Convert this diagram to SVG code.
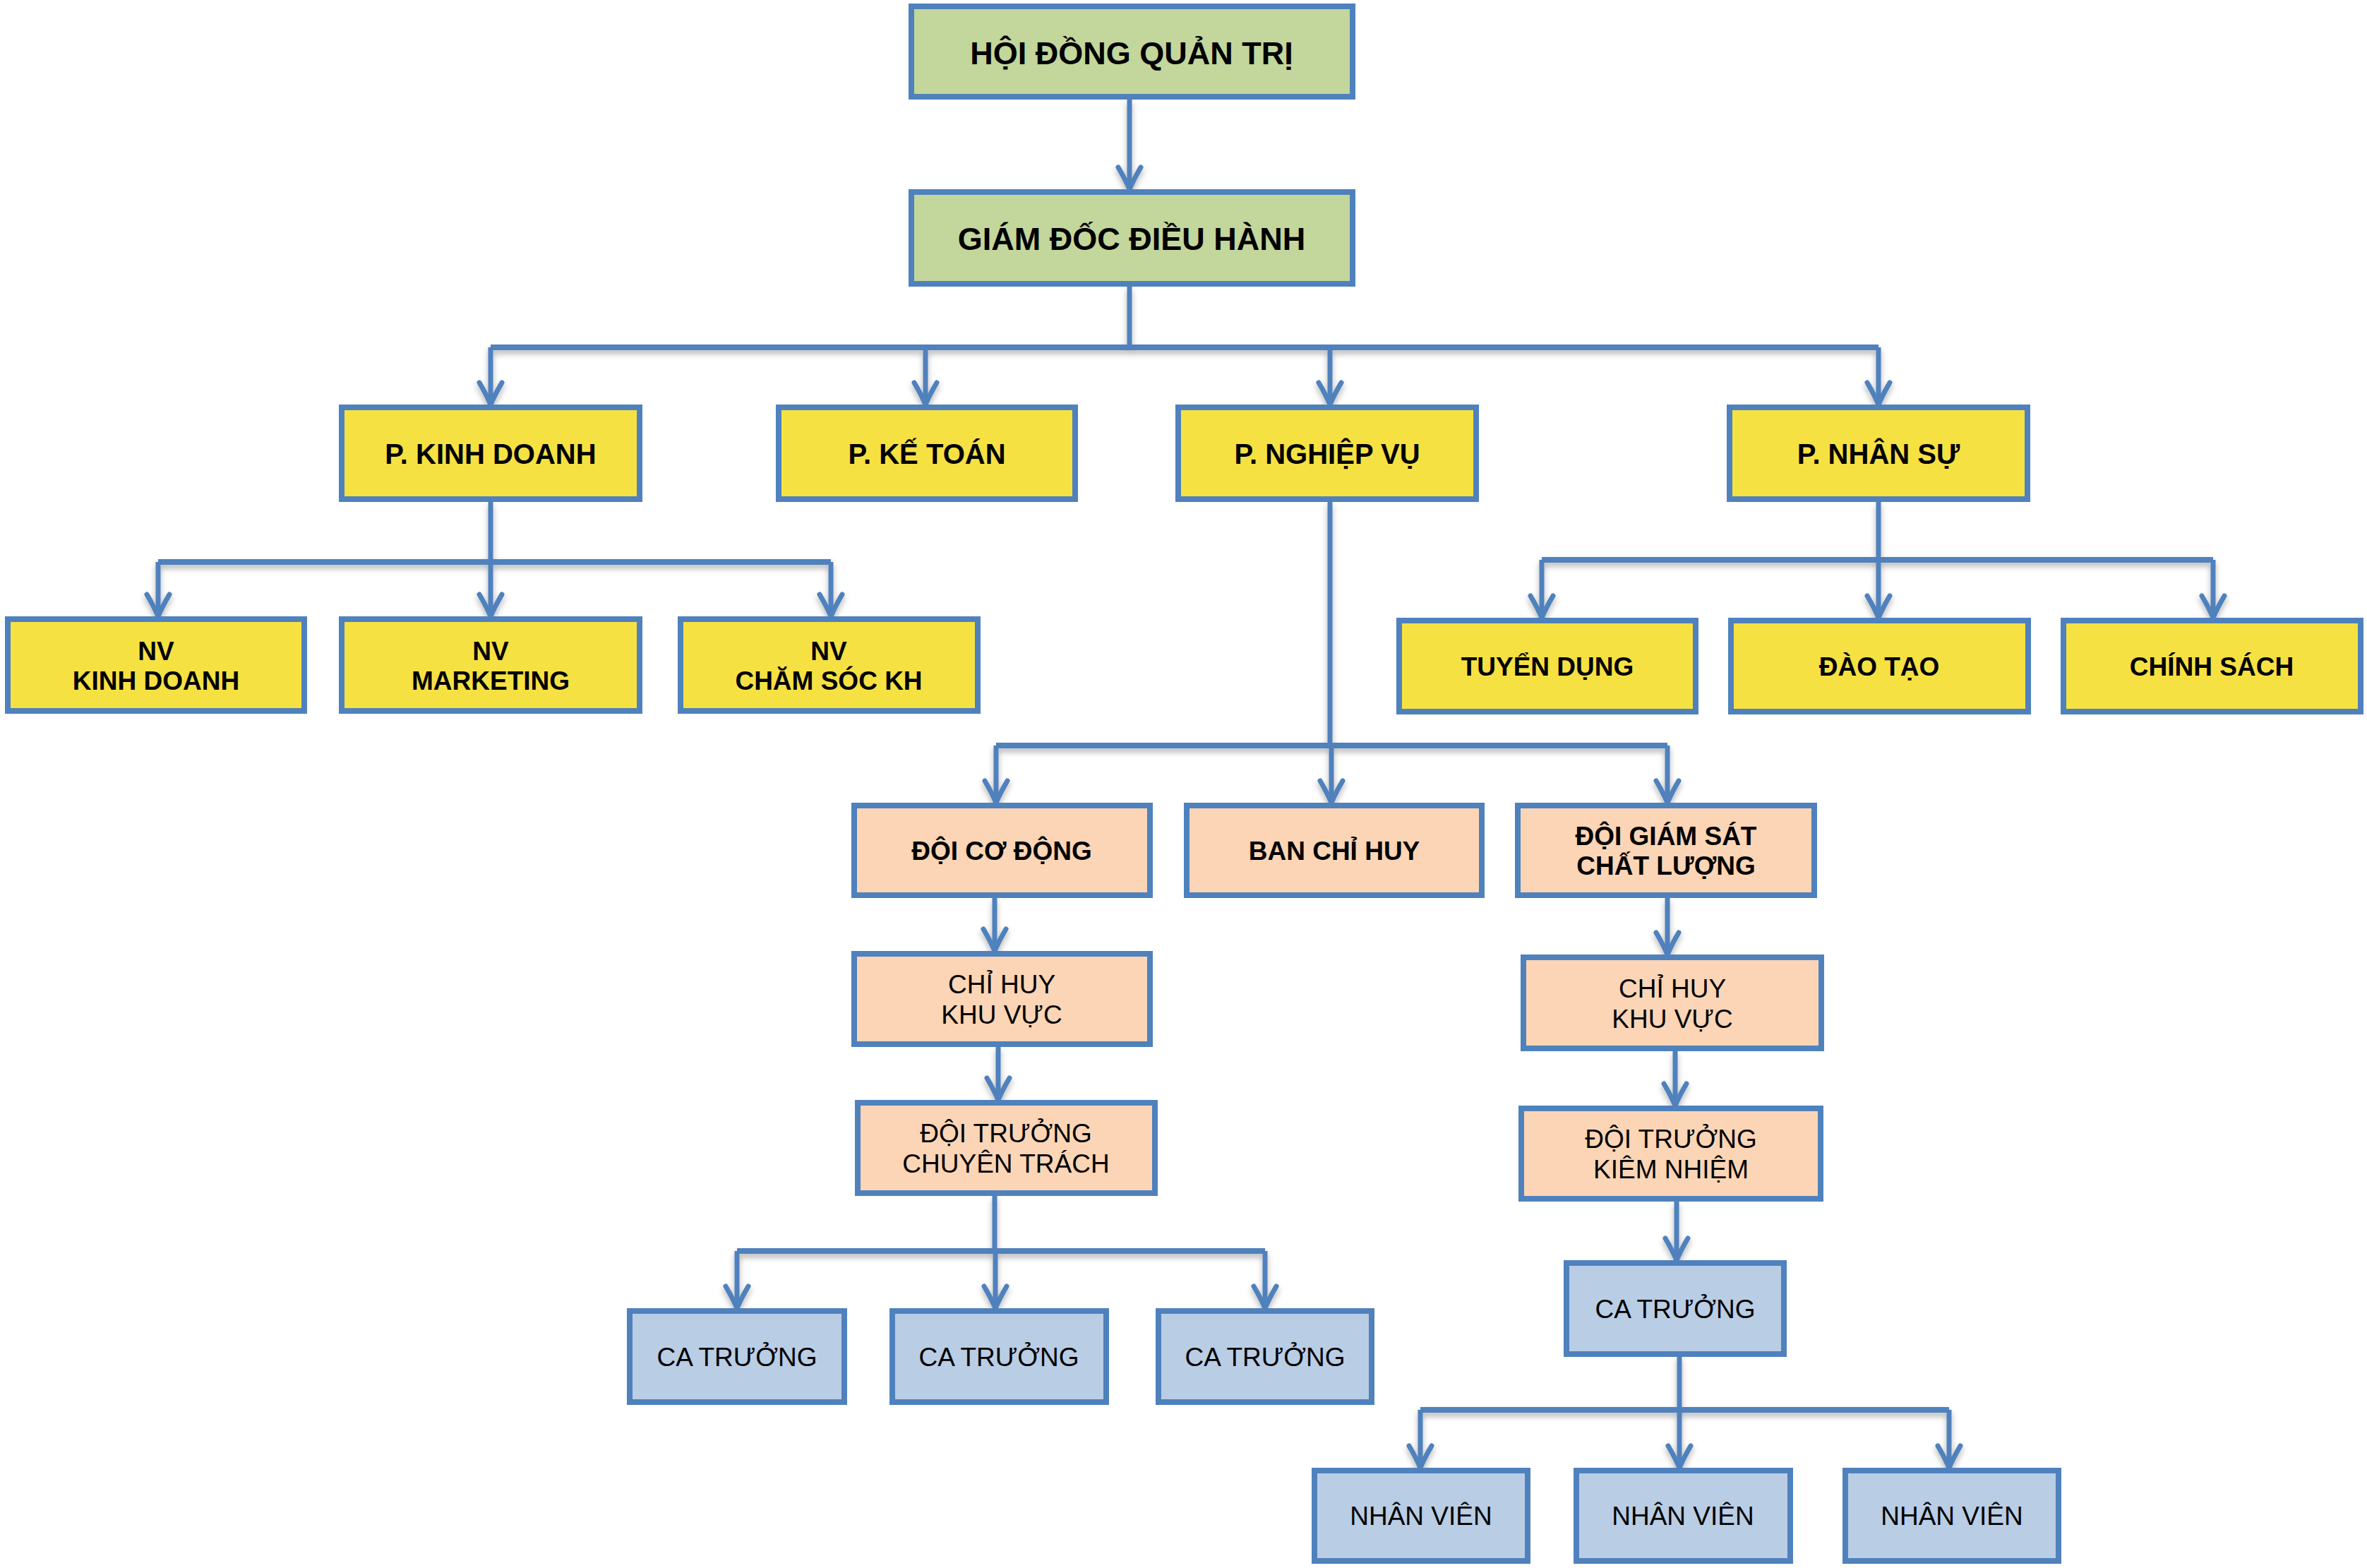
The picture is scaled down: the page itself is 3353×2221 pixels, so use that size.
<svg xmlns="http://www.w3.org/2000/svg" width="3353" height="2221" viewBox="0 0 3353 2221">
<defs>
<style>
.box{stroke:#4F81BD;stroke-width:8}
.g{fill:#C3D69B}.y{fill:#F6E143}.p{fill:#FBD5B5}.b{fill:#B9CDE5}
text{font-family:"Liberation Sans",Arial,sans-serif;fill:#000;text-anchor:middle}
.t1{font-size:45px;font-weight:bold}
.t2{font-size:40px;font-weight:bold}
.t3{font-size:37px;font-weight:bold}
.t4{font-size:37px}
.c{fill:none;stroke:#4F81BD;stroke-width:7}
.bar{stroke-width:8}
.a{marker-end:url(#arr)}
</style>
<marker id="arr" markerUnits="userSpaceOnUse" viewBox="-40 -22 48 44" refX="0" refY="0" markerWidth="48" markerHeight="44" orient="auto">
<path d="M-31,-16 Q-14,-6 0,0 Q-14,6 -31,16" fill="none" stroke="#4F81BD" stroke-width="7" stroke-linecap="round" stroke-linejoin="round"/>
</marker>
<filter id="sh" x="-5%" y="-50%" width="110%" height="300%">
<feDropShadow dx="0" dy="5" stdDeviation="4" flood-color="#000" flood-opacity="0.3"/>
</filter>
</defs>
<rect width="3353" height="2221" fill="#fff"/>

<g id="connectors" filter="url(#sh)">
<path class="c a" d="M1600,141 V268"/>
<path class="c" d="M1600,406 V492"/>
<path class="c bar" d="M695,492 H2661"/>
<path class="c a" d="M695,492 V573"/>
<path class="c a" d="M1311,492 V573"/>
<path class="c a" d="M1884,492 V573"/>
<path class="c a" d="M2661,492 V573"/>

<path class="c" d="M695,711 V796"/>
<path class="c bar" d="M224,796 H1177"/>
<path class="c a" d="M224,796 V873"/>
<path class="c a" d="M695,796 V873"/>
<path class="c a" d="M1177,796 V873"/>

<path class="c" d="M2661,711 V793"/>
<path class="c bar" d="M2184,793 H3135"/>
<path class="c a" d="M2184,793 V875"/>
<path class="c a" d="M2661,793 V875"/>
<path class="c a" d="M3135,793 V875"/>

<path class="c" d="M1884,711 V1056"/>
<path class="c bar" d="M1411,1056 H2362"/>
<path class="c a" d="M1411,1056 V1137"/>
<path class="c a" d="M1886,1056 V1137"/>
<path class="c a" d="M2362,1056 V1137"/>

<path class="c a" d="M1409,1272 V1347"/>
<path class="c a" d="M1414,1483 V1558"/>
<path class="c" d="M1409,1694 V1772"/>
<path class="c bar" d="M1044,1772 H1792"/>
<path class="c a" d="M1044,1772 V1853"/>
<path class="c a" d="M1410,1772 V1853"/>
<path class="c a" d="M1792,1772 V1853"/>

<path class="c a" d="M2362,1272 V1352"/>
<path class="c a" d="M2373,1489 V1566"/>
<path class="c a" d="M2375,1702 V1785"/>
<path class="c" d="M2379,1922 V1997"/>
<path class="c bar" d="M2012,1997 H2761"/>
<path class="c a" d="M2012,1997 V2079"/>
<path class="c a" d="M2379,1997 V2079"/>
<path class="c a" d="M2761,1997 V2079"/>
</g>

<g id="hdqt"><rect class="box g" x="1291" y="9" width="625" height="128"/><text class="t1" x="1603" y="91">HỘI ĐỒNG QUẢN TRỊ</text></g>
<g id="gddh"><rect class="box g" x="1291" y="272" width="625" height="130"/><text class="t1" x="1603" y="354">GIÁM ĐỐC ĐIỀU HÀNH</text></g>

<g id="p-kinh-doanh"><rect class="box y" x="484" y="577" width="422" height="130"/><text class="t2" x="695" y="657">P. KINH DOANH</text></g>
<g id="p-ke-toan"><rect class="box y" x="1103" y="577" width="420" height="130"/><text class="t2" x="1313" y="657">P. KẾ TOÁN</text></g>
<g id="p-nghiep-vu"><rect class="box y" x="1669" y="577" width="422" height="130"/><text class="t2" x="1880" y="657">P. NGHIỆP VỤ</text></g>
<g id="p-nhan-su"><rect class="box y" x="2450" y="577" width="422" height="130"/><text class="t2" x="2661" y="657">P. NHÂN SỰ</text></g>

<g id="nv-kinh-doanh"><rect class="box y" x="11" y="877" width="420" height="130"/><text class="t3" x="221" y="935">NV</text><text class="t3" x="221" y="977">KINH DOANH</text></g>
<g id="nv-marketing"><rect class="box y" x="484" y="877" width="422" height="130"/><text class="t3" x="695" y="935">NV</text><text class="t3" x="695" y="977">MARKETING</text></g>
<g id="nv-cham-soc"><rect class="box y" x="964" y="877" width="421" height="130"/><text class="t3" x="1174" y="935">NV</text><text class="t3" x="1174" y="977">CHĂM SÓC KH</text></g>

<g id="tuyen-dung"><rect class="box y" x="1982" y="879" width="420" height="129"/><text class="t3" x="2192" y="957">TUYỂN DỤNG</text></g>
<g id="dao-tao"><rect class="box y" x="2452" y="879" width="421" height="129"/><text class="t3" x="2662" y="957">ĐÀO TẠO</text></g>
<g id="chinh-sach"><rect class="box y" x="2923" y="879" width="421" height="129"/><text class="t3" x="3133" y="957">CHÍNH SÁCH</text></g>

<g id="doi-co-dong"><rect class="box p" x="1210" y="1141" width="419" height="127"/><text class="t3" x="1419" y="1218">ĐỘI CƠ ĐỘNG</text></g>
<g id="ban-chi-huy"><rect class="box p" x="1681" y="1141" width="418" height="127"/><text class="t3" x="1890" y="1218">BAN CHỈ HUY</text></g>
<g id="doi-giam-sat"><rect class="box p" x="2150" y="1141" width="420" height="127"/><text class="t3" x="2360" y="1197">ĐỘI GIÁM SÁT</text><text class="t3" x="2360" y="1239">CHẤT LƯỢNG</text></g>

<g id="chi-huy-kv-1"><rect class="box p" x="1210" y="1351" width="419" height="128"/><text class="t4" x="1419" y="1407">CHỈ HUY</text><text class="t4" x="1419" y="1450">KHU VỰC</text></g>
<g id="doi-truong-ct"><rect class="box p" x="1215" y="1562" width="421" height="128"/><text class="t4" x="1425" y="1618">ĐỘI TRƯỞNG</text><text class="t4" x="1425" y="1661">CHUYÊN TRÁCH</text></g>

<g id="chi-huy-kv-2"><rect class="box p" x="2158" y="1356" width="422" height="129"/><text class="t4" x="2369" y="1413">CHỈ HUY</text><text class="t4" x="2369" y="1456">KHU VỰC</text></g>
<g id="doi-truong-kn"><rect class="box p" x="2155" y="1570" width="424" height="128"/><text class="t4" x="2367" y="1626">ĐỘI TRƯỞNG</text><text class="t4" x="2367" y="1669">KIÊM NHIỆM</text></g>

<g id="ca-truong-1"><rect class="box b" x="892" y="1857" width="304" height="129"/><text class="t4" x="1044" y="1935">CA TRƯỞNG</text></g>
<g id="ca-truong-2"><rect class="box b" x="1264" y="1857" width="303" height="129"/><text class="t4" x="1415" y="1935">CA TRƯỞNG</text></g>
<g id="ca-truong-3"><rect class="box b" x="1641" y="1857" width="302" height="129"/><text class="t4" x="1792" y="1935">CA TRƯỞNG</text></g>

<g id="ca-truong-4"><rect class="box b" x="2219" y="1789" width="308" height="129"/><text class="t4" x="2373" y="1867">CA TRƯỞNG</text></g>

<g id="nhan-vien-1"><rect class="box b" x="1862" y="2083" width="302" height="128"/><text class="t4" x="2013" y="2160">NHÂN VIÊN</text></g>
<g id="nhan-vien-2"><rect class="box b" x="2233" y="2083" width="303" height="128"/><text class="t4" x="2384" y="2160">NHÂN VIÊN</text></g>
<g id="nhan-vien-3"><rect class="box b" x="2614" y="2083" width="302" height="128"/><text class="t4" x="2765" y="2160">NHÂN VIÊN</text></g>
</svg>
